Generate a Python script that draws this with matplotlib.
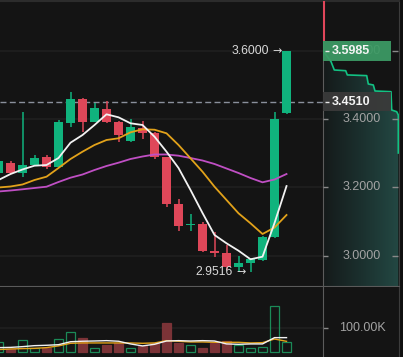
import matplotlib
matplotlib.use('Agg')
import matplotlib.pyplot as plt
import numpy as np
from matplotlib.patches import Rectangle, Polygon
from matplotlib.colors import LinearSegmentedColormap

# ---------------- data ----------------
opens  = [3.2420, 3.2713, 3.2420, 3.2654, 3.2888, 3.2605, 3.3884, 3.4586, 3.3913, 3.4293,
          3.3913, 3.3357, 3.3737, 3.3591, 3.2897, 3.1513, 3.0898, 3.0928, 3.0138, 3.0079,
          2.9655, 2.9778, 2.9874, 3.0556, 3.4167]
closes = [3.2771, 3.2420, 3.2654, 3.2859, 3.2605, 3.3913, 3.4586, 3.3913, 3.4322, 3.3913,
          3.3533, 3.3767, 3.3591, 3.2897, 3.1522, 3.0878, 3.0919, 3.0138, 3.0088, 2.9670,
          2.9778, 2.9903, 3.0556, 3.4001, 3.5985]
highs  = [3.2800, 3.2771, 3.4205, 3.2956, 3.2947, 3.3971, 3.4791, 3.4615, 3.4469, 3.4527,
          3.3942, 3.4001, 3.3942, 3.3629, 3.2897, 3.1659, 3.1220, 3.0986, 3.0694, 3.0313,
          2.9991, 2.9930, 3.0586, 3.4214, 3.6000]
lows   = [3.2380, 3.2390, 3.2303, 3.2640, 3.2537, 3.2596, 3.3767, 3.3620, 3.3900, 3.3884,
          3.3328, 3.3328, 3.3416, 3.2839, 3.1425, 3.0732, 3.0732, 3.0108, 2.9962, 2.9582,
          2.9532, 2.9516, 2.9850, 3.0530, 3.4138]
ma_white = [3.2215, 3.2390, 3.2523, 3.2634, 3.2654, 3.2859, 3.3307, 3.3532, 3.3825, 3.4138,
            3.4050, 3.3875, 3.3825, 3.3483, 3.3044, 3.2567, 3.1923, 3.1250, 3.0606, 3.0363,
            3.0146, 2.9895, 2.9971, 3.0957, 3.2038]
ma_orange = [3.1996, 3.2025, 3.2084, 3.2215, 3.2312, 3.2567, 3.2830, 3.3044, 3.3240, 3.3386,
             3.3436, 3.3611, 3.3699, 3.3687, 3.3582, 3.3240, 3.2850, 3.2458, 3.2019, 3.1630,
             3.1241, 3.0948, 3.0635, 3.0825, 3.1191]
ma_magenta = [3.1879, 3.1908, 3.1943, 3.1981, 3.2019, 3.2157, 3.2283, 3.2376, 3.2508, 3.2625,
              3.2722, 3.2830, 3.2903, 3.2962, 3.2962, 3.2927, 3.2859, 3.2786, 3.2684, 3.2552,
              3.2420, 3.2274, 3.2148, 3.2230, 3.2391]
volumes = [40.7, 13.6, 48.8, 16.3, 16.3, 52.8, 81.3, 58.3, 19.0, 29.8, 38.0, 19.0, 27.0,
           38.0, 119.0, 38.0, 28.5, 16.3, 38.0, 46.0, 29.8, 16.3, 20.3, 187.0, 40.7]
vol_ma_white = [19, 20, 23, 27, 28.5, 31, 43, 45, 46, 47.4, 45, 34, 26, 32.5, 46, 47.4,
                46, 47.4, 46, 34, 32.5, 34, 34, 59.6, 59.6]
vol_ma_orange = [11, 13.5, 15, 16, 19, 26, 36.6, 38, 38, 38, 38, 38, 36.6, 38, 47.4, 44.7,
                 42, 42, 40.6, 40.6, 40.6, 38, 39.3, 54, 44.7]
depth_price = [3.6000, 3.5680, 3.5435, 3.5414, 3.5290, 3.5270, 3.5025, 3.4996, 3.4820,
               3.4800, 3.4264, 3.4214, 3.4118, 3.3006]
depth_qty = [0, 8, 11.3, 22.7, 24.3, 43.7, 45.3, 50.3, 52, 68, 68.7, 73.7, 75.3, 75.3]
price_ticks = [3.6, 3.4, 3.2, 3.0]
price_tick_labels = ['3.6000', '3.4000', '3.2000', '3.0000']
vol_ticks = [100]
vol_tick_labels = ['100.00K']
last_price = 3.5985
mark_price = 3.4510
high_label = (24, 3.6000, '3.6000')
low_label = (21, 2.9516, '2.9516')

# ---------------- style ----------------
BG = '#141414'
GREEN = '#10b37d'
RED = '#df4759'
GRID = '#1e1e1e'
AXIS = '#5c5c5c'
TXT = '#a3a3a3'
FONT = ['Liberation Sans', 'DejaVu Sans']
plt.rcParams['font.family'] = FONT

W, H = 403, 357
fig = plt.figure(figsize=(W / 100, H / 100), dpi=100, facecolor='#101010')

def rect(x0, y0, x1, y1):
    return [x0 / W, 1 - y1 / H, (x1 - x0) / W, (y1 - y0) / H]

ax = fig.add_axes(rect(0, 1, 323, 286))
axv = fig.add_axes(rect(0, 287, 323, 357))
axd = fig.add_axes(rect(323, 1, 399, 286))
axvr = fig.add_axes(rect(323, 287, 399, 357))

YMIN, YMAX = 2.9113, 3.7454
VMIN, VMAX = -19.1, 265.4
XMIN, XMAX = 0.125, 27.04

for a in (ax, axv, axd, axvr):
    a.set_facecolor(BG)
    a.set_xticks([])
    a.set_yticks([])
    for s in a.spines.values():
        s.set_visible(False)

x = np.arange(len(opens))
o = np.array(opens); c = np.array(closes)
up = c >= o
cols = [GREEN if u else RED for u in up]

# grid
for p in price_ticks:
    ax.axhline(p, color=GRID, lw=1.3, zorder=0)

# candles
ax.vlines(x, lows, highs, colors=cols, lw=1.1, zorder=3)
body = np.maximum(np.abs(c - o), 0.004)
bottoms = np.where(np.abs(c - o) < 0.004, (o + c) / 2 - 0.002, np.minimum(o, c))
ax.bar(x, body, bottom=bottoms, width=0.75, color=cols, zorder=4, linewidth=0)

# MAs
ax.plot(x, ma_magenta, color='#c04fc4', lw=1.3, zorder=5)
ax.plot(x, ma_orange, color='#e2a21a', lw=1.3, zorder=5)
ax.plot(x, ma_white, color='#f2f2f2', lw=1.3, zorder=6)

ax.axhline(mark_price, color='#8a909c', lw=1.0, dashes=(4.3, 2.4), zorder=2)

for xi, yv, lab in (high_label, low_label):
    ax.annotate('\u2192', (xi - 0.36, yv), ha='right', va='center', color='#d9d9d9',
                fontsize=8, family='DejaVu Sans', zorder=7)
    ax.annotate(lab, (xi - 0.36, yv), xytext=(-9.5, 0), textcoords='offset points',
                ha='right', va='center', color='#d9d9d9', fontsize=8.7, zorder=7)

ax.set_xlim(XMIN, XMAX)
ax.set_ylim(YMIN, YMAX)
ax.spines['top'].set_visible(True)
ax.spines['top'].set_color('#2c2c2c')
ax.spines['top'].set_linewidth(1.5)
ax.spines['bottom'].set_visible(True)
ax.spines['bottom'].set_color('#5a5a5a')

# volume
vcols_face = ['none' if u else '#7b3337' for u in up]
vcols_edge = ['#1b8a57' if u else '#7b3337' for u in up]
axv.axhline(vol_ticks[0], color=GRID, lw=1.3, zorder=0)
axv.bar(x, volumes, width=0.7, facecolor=vcols_face, edgecolor=vcols_edge, lw=0.9, zorder=3)
axv.plot(x, vol_ma_orange, color='#e2a21a', lw=1.0, zorder=4)
axv.plot(x, vol_ma_white, color='#f2f2f2', lw=1.0, zorder=5)
axv.set_xlim(XMIN, XMAX)
axv.set_ylim(VMIN, VMAX)

# depth panel
dq = np.array(depth_qty); dp = np.array(depth_price)
poly_xy = np.column_stack([np.concatenate([[0], dq, [dq[-1], 0]]),
                           np.concatenate([[dp[0]], dp, [YMIN, YMIN]])])
poly = Polygon(poly_xy, closed=True, facecolor='none', edgecolor='none')
axd.add_patch(poly)
cmap = LinearSegmentedColormap.from_list('g', ['#151a1a', '#1b302e', '#234843'])
grad = np.linspace(0, 1, 256).reshape(1, -1)
im = axd.imshow(grad, extent=(0, dq.max(), YMIN, dp[0]), aspect='auto', cmap=cmap,
                origin='lower', zorder=1, interpolation='bilinear')
im.set_clip_path(poly)
axd.plot(dq, dp, color='#12c283', lw=1.2, zorder=3)

axd.set_xlim(0, 76)
axd.set_ylim(YMIN, YMAX)
for p, lab in zip(price_ticks, price_tick_labels):
    axd.text(39, p, lab, ha='center', va='center', color=TXT, fontsize=9, zorder=4)
axd.hlines(price_ticks, 0, 5, color='#8a8a8a', lw=1, zorder=4)
axd.hlines(price_ticks, 69, 75, color='#8a8a8a', lw=1, zorder=4)

bh = 19.4 / 341.7
axd.add_patch(Rectangle((0, last_price - bh / 2), 68, bh, facecolor='#3d9b65',
                        edgecolor='none', alpha=0.93, zorder=5))
axd.add_patch(Rectangle((0, mark_price - bh / 2), 68, bh, facecolor='#3a3a3a',
                        edgecolor='none', alpha=0.95, zorder=5))
for p in (last_price, mark_price):
    axd.text(8.7, p, f'{p:.4f}', ha='left', va='center', color='#f4f4f4', fontsize=9,
             fontweight='bold', zorder=6)
    axd.hlines(p, 2, 6, color='#e8e8e8', lw=1, zorder=6)
axd.vlines(0.6, last_price + bh / 2, YMAX, color='#e0465a', lw=1.5, zorder=6)

axd.spines['left'].set_visible(True)
axd.spines['left'].set_color(AXIS)
axd.spines['right'].set_visible(True)
axd.spines['right'].set_color('#3c3c3c')
axd.spines['top'].set_visible(True)
axd.spines['top'].set_color('#2c2c2c')
axd.spines['top'].set_linewidth(1.5)
axd.spines['bottom'].set_visible(True)
axd.spines['bottom'].set_color('#5a5a5a')

# volume right axis
axvr.set_xlim(0, 76)
axvr.set_ylim(VMIN, VMAX)
for v, lab in zip(vol_ticks, vol_tick_labels):
    axvr.text(39, v, lab, ha='center', va='center', color=TXT, fontsize=9)
axvr.hlines(vol_ticks, 0, 5, color='#8a8a8a', lw=1)
axvr.spines['left'].set_visible(True)
axvr.spines['left'].set_color(AXIS)
axvr.spines['right'].set_visible(True)
axvr.spines['right'].set_color('#3c3c3c')

fig.savefig('out.png', dpi=100, facecolor=fig.get_facecolor())
